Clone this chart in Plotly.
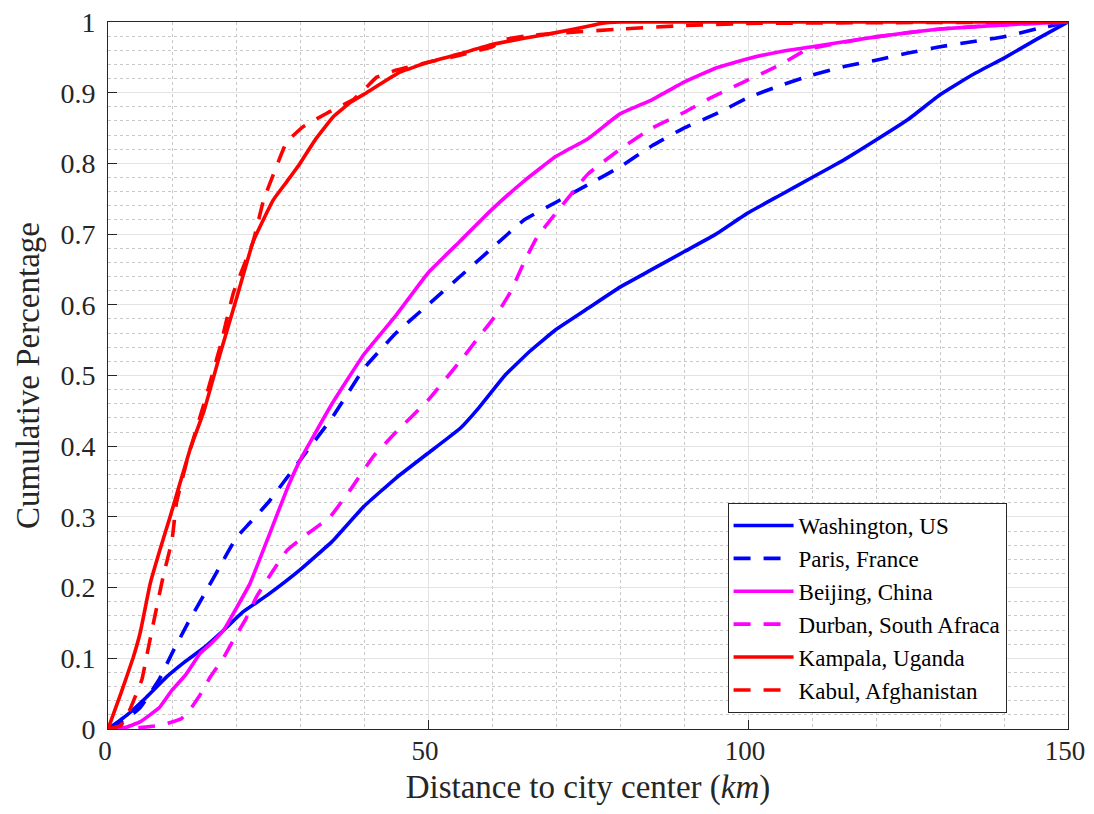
import plotly.graph_objects as go

# ---- data ----
wash_d = [0, 3, 6, 9.2, 12, 15, 18.1, 21, 25, 30, 35, 40, 45, 50, 55, 58, 62, 66, 70, 75, 80, 85, 90, 95, 100, 105, 110, 115, 120, 125, 130, 135, 140, 145, 150]
wash_p = [0, 0.02, 0.045, 0.074, 0.095, 0.115, 0.14, 0.165, 0.19, 0.225, 0.265, 0.315, 0.355, 0.39, 0.425, 0.455, 0.5, 0.535, 0.565, 0.595, 0.625, 0.65, 0.675, 0.70, 0.73, 0.755, 0.78, 0.805, 0.833, 0.862, 0.897, 0.925, 0.949, 0.975, 1.0]

paris_d = [0, 3, 5, 8, 10, 12.5, 15, 17.5, 20, 22, 25, 30, 35, 40, 45, 50, 55, 60, 65, 70, 75, 80, 85, 90, 95, 100, 105, 110, 115, 120, 125, 130, 135, 140, 145, 150]
paris_p = [0, 0.015, 0.03, 0.07, 0.107, 0.15, 0.19, 0.23, 0.27, 0.29, 0.32, 0.38, 0.44, 0.51, 0.56, 0.60, 0.64, 0.68, 0.72, 0.745, 0.77, 0.795, 0.825, 0.85, 0.87, 0.893, 0.91, 0.925, 0.937, 0.946, 0.956, 0.965, 0.972, 0.979, 0.99, 1.0]

beij_d = [0, 3, 5, 8, 10, 12, 14.4, 16, 18.1, 20, 22.2, 25.3, 28, 30, 35, 40, 45, 50, 55, 60, 65, 70, 75, 80, 85, 90, 95, 100, 105, 110, 115, 120, 125, 130, 140, 150]
beij_p = [0, 0.003, 0.01, 0.03, 0.055, 0.075, 0.107, 0.12, 0.14, 0.17, 0.206, 0.277, 0.34, 0.38, 0.46, 0.53, 0.585, 0.645, 0.69, 0.735, 0.775, 0.81, 0.835, 0.87, 0.89, 0.915, 0.935, 0.948, 0.958, 0.965, 0.972, 0.979, 0.985, 0.99, 0.996, 1.0]

durb_d = [0, 5, 8, 10, 11.5, 12.8, 14.5, 16, 18, 19.6, 21.5, 23.2, 25.5, 28, 31, 34.7, 38, 41.4, 45, 50, 55, 58, 61, 63, 65, 67, 70, 75, 80, 85, 90, 94, 99.3, 104, 105.5, 108.6, 110, 120, 130, 140, 150]
durb_p = [0, 0.002, 0.005, 0.01, 0.015, 0.027, 0.05, 0.074, 0.1, 0.126, 0.155, 0.187, 0.22, 0.253, 0.275, 0.30, 0.34, 0.385, 0.42, 0.465, 0.52, 0.555, 0.59, 0.62, 0.66, 0.695, 0.73, 0.785, 0.82, 0.85, 0.872, 0.892, 0.915, 0.935, 0.942, 0.958, 0.963, 0.979, 0.99, 0.996, 1.0]

kamp_d = [0, 2, 3.9, 5, 6.6, 8, 9.7, 11, 12.8, 15, 17.5, 20.3, 22.7, 25.8, 28, 30, 32.5, 35.2, 38, 40.4, 45.6, 50, 55, 60, 65, 70, 75, 77, 80, 100, 150]
kamp_p = [0, 0.05, 0.10, 0.135, 0.206, 0.25, 0.30, 0.34, 0.395, 0.45, 0.53, 0.616, 0.69, 0.748, 0.775, 0.80, 0.835, 0.866, 0.887, 0.90, 0.929, 0.943, 0.955, 0.968, 0.977, 0.985, 0.994, 0.998, 1.0, 1.0, 1.0]

kabu_d = [0, 2, 3.4, 5.3, 6.2, 7.1, 8.6, 10, 10.7, 12.5, 15, 17.5, 19.6, 22.7, 24.3, 26.3, 27.9, 30.5, 34.2, 38.3, 40.4, 42, 45.1, 50, 55, 60, 62, 65, 70, 80, 90, 100, 150]
kabu_p = [0, 0.005, 0.027, 0.07, 0.11, 0.15, 0.215, 0.267, 0.32, 0.385, 0.46, 0.54, 0.617, 0.69, 0.748, 0.795, 0.83, 0.852, 0.871, 0.89, 0.908, 0.922, 0.932, 0.943, 0.953, 0.965, 0.975, 0.98, 0.984, 0.99, 0.995, 0.998, 1.0]

names = ["Washington, US", "Paris, France", "Beijing, China", "Durban, South Afraca", "Kampala, Uganda", "Kabul, Afghanistan"]
xs = [wash_d, paris_d, beij_d, durb_d, kamp_d, kabu_d]
ys = [wash_p, paris_p, beij_p, durb_p, kamp_p, kabu_p]
colors = ["#0000FF", "#0000FF", "#FF00FF", "#FF00FF", "#FF0000", "#FF0000"]
dashes = ["solid", "17px,13px", "solid", "17px,13px", "solid", "17px,13px"]

x_ticks = [0, 50, 100, 150]
y_ticks = [0, 0.1, 0.2, 0.3, 0.4, 0.5, 0.6, 0.7, 0.8, 0.9, 1.0]
y_ticklabels = ["0", "0.1", "0.2", "0.3", "0.4", "0.5", "0.6", "0.7", "0.8", "0.9", "1"]

FONT = "Liberation Serif"
AX = "#262626"

fig = go.Figure()
for n, x, y, c, d in zip(names, xs, ys, colors, dashes):
    fig.add_trace(go.Scatter(x=x, y=y, mode="lines", name=n,
                             line=dict(color=c, width=3.6, dash=d, shape="spline", smoothing=0.3)))

axis_common = dict(
    showline=True, linecolor=AX, linewidth=1, mirror=True,
    ticks="inside", ticklen=9, tickcolor=AX, tickwidth=1,
    showgrid=True, gridcolor="#e3e3e3", gridwidth=1.2,
    zeroline=False,
    automargin=False, ticklabeloverflow="allow",
)

fig.update_xaxes(range=[0, 150], tickvals=x_ticks, ticktext=[str(v) for v in x_ticks],
                 tickfont=dict(family=FONT, size=27, color=AX),
                 title=dict(text="Distance to city center (<i>km</i>)", font=dict(family=FONT, size=33, color=AX), standoff=10),
                 minor=dict(dtick=10, showgrid=True, gridcolor="#c8c8c8", griddash="dot", gridwidth=1, ticks=""),
                 ticklabelstandoff=-2, ticklabelshift=-3,
                 **axis_common)
fig.update_yaxes(range=[0, 1], tickvals=y_ticks, ticktext=y_ticklabels,
                 tickfont=dict(family=FONT, size=28, color=AX),
                 title=dict(text="Cumulative Percentage", font=dict(family=FONT, size=33, color=AX), standoff=10),
                 minor=dict(dtick=0.02, showgrid=True, gridcolor="#c8c8c8", griddash="dot", gridwidth=1, ticks=""),
                 ticklabelstandoff=6,
                 **axis_common)

fig.update_layout(
    width=1078, height=798,
    margin=dict(l=100, r=18, t=14, b=77, autoexpand=False),
    plot_bgcolor="white", paper_bgcolor="white",
    font=dict(family=FONT, color=AX),
    legend=dict(x=0.936, y=0.0226, xanchor="right", yanchor="bottom",
                bgcolor="white", bordercolor=AX, borderwidth=1,
                font=dict(family=FONT, size=23, color="black"),
                tracegroupgap=0, itemwidth=60),
    showlegend=True,
)

fig.write_html("out.html")
